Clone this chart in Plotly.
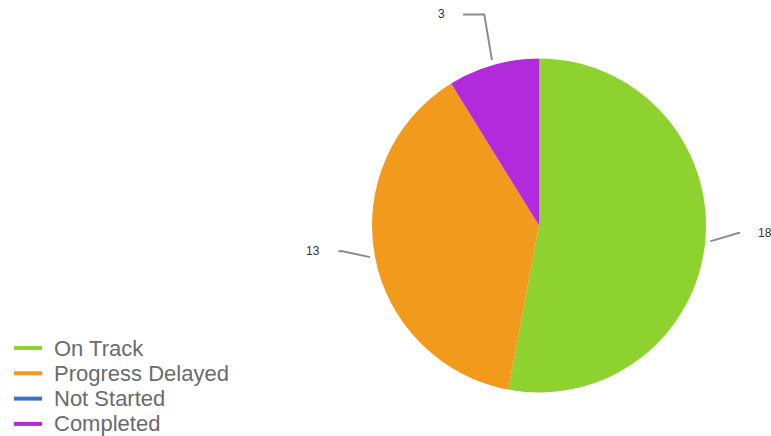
import math
import plotly.graph_objects as go

# Status breakdown
categories = ["On Track", "Progress Delayed", "Not Started", "Completed"]
counts = [18, 13, 0, 3]
colors = ["#8ED22F", "#F19A1C", "#3A72C2", "#B12ADB"]

W, H = 771, 436
# pie placement in pixels
cx, cy, r = 539, 225.5, 167

fig = go.Figure()

fig.add_trace(go.Pie(
    labels=categories,
    values=counts,
    marker=dict(colors=colors, line=dict(width=0)),
    sort=False,
    direction="clockwise",
    rotation=0,
    textinfo="none",
    showlegend=False,
    domain=dict(x=[(cx - r) / W, (cx + r) / W],
                y=[1 - (cy + r) / H, 1 - (cy - r) / H]),
))


def px(x, y):
    return x / W, 1 - y / H


def polar(rad, theta_deg):
    t = math.radians(theta_deg)
    return cx + rad * math.sin(t), cy - rad * math.cos(t)


shapes = []
annotations = []

# outside value labels with leader lines
total = sum(counts)
cum = 0
for v in counts:
    if v == 0:
        continue
    mid = (cum + v / 2) / total * 360
    cum += v
    c = math.cos(math.radians(mid))
    sx, sy = polar(r + 5, mid)
    ex, ey = polar(r + 33, mid)
    ey -= 11 + 8 * max(c, 0)
    side = 1 if math.sin(math.radians(mid)) >= 0 else -1
    hx = ex + side * 22 * abs(c)
    p0, p1, p2 = px(sx, sy), px(ex, ey), px(hx, ey)
    shapes.append(dict(
        type="path", xref="paper", yref="paper",
        path=f"M{p0[0]},{p0[1]} L{p1[0]},{p1[1]} L{p2[0]},{p2[1]}",
        line=dict(color="#8C8C8C", width=2),
    ))
    lx, ly = px(hx + side * 16, ey)
    annotations.append(dict(
        x=lx, y=ly, xref="paper", yref="paper", text=str(v),
        showarrow=False, xanchor="left" if side > 0 else "right",
        yanchor="middle", font=dict(size=12, color="#333333"),
    ))

# legend: short coloured line plus label for each category
leg_x0, leg_x1, leg_text_x = 14, 42, 52
leg_y0, leg_step = 348, 25.3
for i, (name, col) in enumerate(zip(categories, colors)):
    y = leg_y0 + i * leg_step
    a, b = px(leg_x0, y), px(leg_x1, y)
    shapes.append(dict(
        type="line", xref="paper", yref="paper",
        x0=a[0], y0=a[1], x1=b[0], y1=b[1],
        line=dict(color=col, width=4),
    ))
    t = px(leg_text_x, y)
    annotations.append(dict(
        x=t[0], y=t[1], xref="paper", yref="paper", text=name,
        showarrow=False, xanchor="left", yanchor="middle",
        font=dict(size=22, color="#6B6B6B"),
    ))

fig.update_layout(
    width=W, height=H,
    margin=dict(l=0, r=0, t=0, b=0),
    paper_bgcolor="white", plot_bgcolor="white",
    font=dict(family="Liberation Sans, Arial, sans-serif"),
    showlegend=False,
    shapes=shapes,
    annotations=annotations,
)

fig.write_html("out.html")
